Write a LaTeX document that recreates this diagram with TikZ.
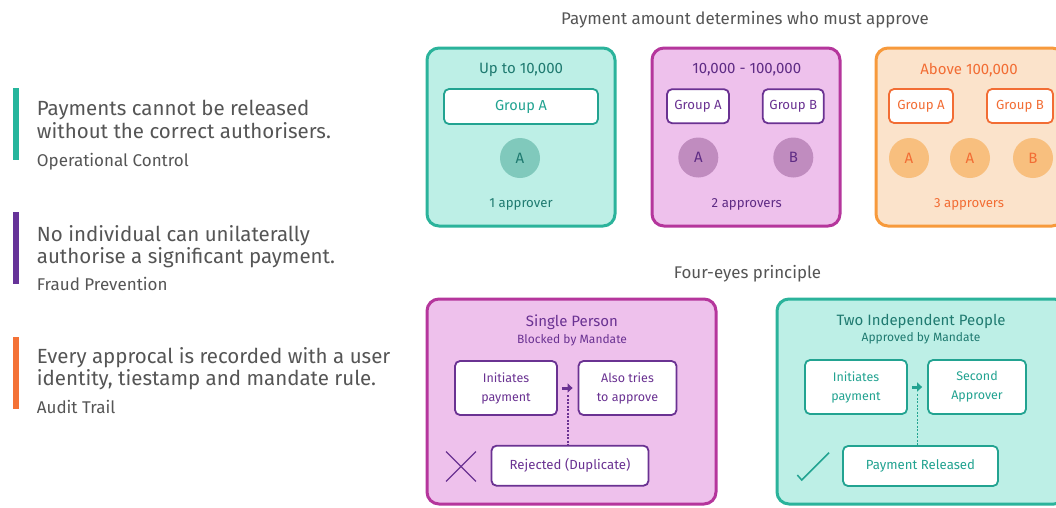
\documentclass[tikz,border=0pt]{standalone}
\usepackage{fontspec}
\setmainfont{Fira Sans}
\usetikzlibrary{arrows.meta, positioning, shapes.misc}

\definecolor{txtgray}{HTML}{555555}
\definecolor{tealB}{HTML}{2BB39B}
\definecolor{tealF}{HTML}{BDEFE6}
\definecolor{tealT}{HTML}{1F7A70}
\definecolor{tealI}{HTML}{22A391}
\definecolor{tealC}{HTML}{80C9BC}
\definecolor{pinkB}{HTML}{B5369C}
\definecolor{pinkF}{HTML}{EEC1EC}
\definecolor{purT}{HTML}{5F2C85}
\definecolor{purI}{HTML}{6A3292}
\definecolor{purC}{HTML}{C08CBF}
\definecolor{oraB}{HTML}{F79A3C}
\definecolor{oraF}{HTML}{FBE3CB}
\definecolor{oraT}{HTML}{F26D34}
\definecolor{oraC}{HTML}{F8BF7E}
\definecolor{barT}{HTML}{26B59C}
\definecolor{barP}{HTML}{663399}
\definecolor{barO}{HTML}{F47236}

\tikzstyle{panel} = [draw, rounded corners=12, line width=3, inner sep=0]
\tikzstyle{block} = [draw, fill=white, rounded corners=5, line width=1.8,
    align=center, inner sep=0, font=\fontsize{12.5}{19}\selectfont]
\tikzstyle{tok} = [circle, minimum size=40, inner sep=0, font=\fontsize{15}{15}\selectfont]
\tikzstyle{bar} = [minimum width=6, minimum height=72, inner sep=0]
\tikzstyle{lead} = [anchor=base west, inner sep=0, text=txtgray, align=left,
    font=\fontsize{20.5}{22.3}\selectfont]
\tikzstyle{tag} = [anchor=base west, inner sep=0, text=txtgray, font=\fontsize{17}{18}\selectfont]
\tikzstyle{head} = [text=txtgray, font=\fontsize{16.9}{18}\selectfont]
\tikzstyle{ptitle} = [font=\fontsize{15}{16}\selectfont]
\tikzstyle{pcount} = [font=\fontsize{13.2}{15}\selectfont]
\tikzstyle{small} = [font=\fontsize{13.2}{15}\selectfont]
\tikzstyle{flow} = [line width=3, -{Triangle[length=5, width=9]}, shorten <=4, shorten >=5]
\tikzstyle{link} = [line width=1.5, dash pattern=on 2 off 1.5]

\begin{document}
\begin{tikzpicture}[x=1pt, y=-1pt]
    \clip (0,0) rectangle (1056,507);
    \fill[white] (0,0) rectangle (1056,507);

    % left column
    \node [bar, fill=barT] (b1) at (15.5,124) {};
    \node [lead] (l1) at (36.7,138) {Payments cannot be released\\without the correct authorisers.};
    \node [tag] (t1) at (36.7,166.7) {Operational Control};
    \node [bar, fill=barP] (b2) at (15.5,247.5) {};
    \node [lead] (l2) at (36.7,263.3) {No individual can unilaterally\\authorise a significant payment.};
    \node [tag] (t2) at (36.7,290.7) {Fraud Prevention};
    \node [bar, fill=barO] (b3) at (15.5,372.5) {};
    \node [lead] (l3) at (36.7,385.7) {Every approcal is recorded with a user\\identity, tiestamp and mandate rule.};
    \node [tag] (t3) at (36.7,413.3) {Audit Trail};

    % amount bands
    \node [head] (hd1) at (745,20) {Payment amount determines who must approve};

    \node [panel, fill=tealF, draw=tealB, minimum width=188, minimum height=178] (p1) at (521,137) {};
    \node [ptitle, text=tealT] (p1t) at (521,70) {Up to 10,000};
    \node [block, draw=tealI, text=tealI, minimum width=154, minimum height=35,
        font=\fontsize{14.5}{16}\selectfont] (p1a) at (521,106.5) {Group A};
    \node [tok, fill=tealC, text=tealT] (p1c) at (520,158) {A};
    \node [pcount, text=tealT] (p1n) at (521,204.3) {1 approver};

    \node [panel, fill=pinkF, draw=pinkB, minimum width=188, minimum height=178] (p2) at (746,137) {};
    \node [ptitle, text=purT] (p2t) at (746.7,70) {10,000 - 100,000};
    \node [block, small, draw=purI, text=purI, minimum width=62, minimum height=34] (p2a) at (698,106.2) {Group A};
    \node [block, small, draw=purI, text=purI, minimum width=61, minimum height=34] (p2b) at (793.3,106.2) {Group B};
    \node [tok, fill=purC, text=purT] (p2c) at (698.3,157.5) {A};
    \node [tok, fill=purC, text=purT] (p2d) at (793.3,157.5) {B};
    \node [pcount, text=purT] (p2n) at (746.7,204.3) {2 approvers};

    \node [panel, fill=oraF, draw=oraB, minimum width=188, minimum height=178] (p3) at (970,137) {};
    \node [ptitle, text=oraT] (p3t) at (969,70) {Above 100,000};
    \node [block, small, draw=oraT, text=oraT, minimum width=64, minimum height=34] (p3a) at (921,106) {Group A};
    \node [block, small, draw=oraT, text=oraT, minimum width=66, minimum height=34] (p3b) at (1020,106) {Group B};
    \node [tok, fill=oraC, text=oraT] (p3c) at (909,158) {A};
    \node [tok, fill=oraC, text=oraT] (p3d) at (970,158) {A};
    \node [tok, fill=oraC, text=oraT] (p3e) at (1033,158) {B};
    \node [pcount, text=oraT] (p3n) at (969,204.3) {3 approvers};

    % four eyes
    \node [head] (hd2) at (747.5,273.3) {Four-eyes principle};

    \node [panel, fill=pinkF, draw=pinkB, minimum width=289, minimum height=205] (q1) at (571.5,401.5) {};
    \node [text=purI, font=\fontsize{15}{17}\selectfont] (q1t) at (572,322) {Single Person};
    \node [text=purI, font=\fontsize{12}{14}\selectfont] (q1s) at (572,340) {Blocked by Mandate};
    \node [block, draw=purI, text=purI, minimum width=102, minimum height=54] (i1) at (506,388) {Initiates\\payment};
    \node [block, draw=purI, text=purI, minimum width=98, minimum height=54] (a1) at (627.5,388) {Also tries\\to approve};
    \node [block, small, draw=purI, text=purI, minimum width=157, minimum height=40] (r1) at (570,465.7) {Rejected (Duplicate)};
    \node [cross out, draw=purI, line width=1.3, minimum size=28.5, inner sep=0] (x1) at (461,466.5) {};
    \draw [flow, purI] (i1) -- (a1) coordinate[midway] (m1);
    \draw [link, purI] ([yshift=-7]m1) -- (m1 |- r1.north);

    \node [panel, fill=tealF, draw=tealB, minimum width=289, minimum height=205] (q2) at (921.5,401.5) {};
    \node [text=tealT, font=\fontsize{15}{17}\selectfont] (q2t) at (921,321) {Two Independent People};
    \node [text=tealT, font=\fontsize{12}{14}\selectfont] (q2s) at (921,338) {Approved by Mandate};
    \node [block, draw=tealI, text=tealI, minimum width=102, minimum height=54] (i2) at (856,387) {Initiates\\payment};
    \node [block, draw=tealI, text=tealI, minimum width=98, minimum height=54] (s2) at (977,387) {Second\\Approver};
    \node [block, small, draw=tealI, text=tealI, minimum width=155, minimum height=40] (r2) at (920.5,466) {Payment Released};
    \draw [flow, tealI] (i2) -- (s2) coordinate[midway] (m2);
    \draw [link, tealI] ([yshift=-7]m2) -- (m2 |- r2.north);
    \coordinate (k1) at (797.3,475);
    \coordinate (k2) at (801.7,480);
    \coordinate (k3) at (829,452.7);
    \draw [tealI, line width=1.5] (k1) -- (k2) -- (k3);
\end{tikzpicture}
\end{document}
